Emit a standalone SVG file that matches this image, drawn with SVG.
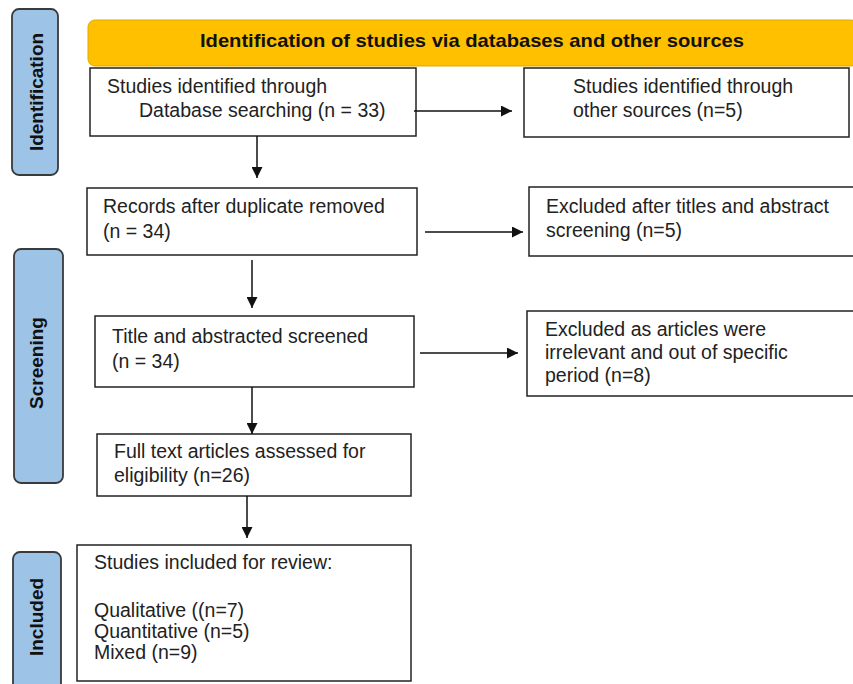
<svg xmlns="http://www.w3.org/2000/svg" width="853" height="684" viewBox="0 0 853 684">
<defs>
<style>
.box{fill:#fff;stroke:#222;stroke-width:1.5}
.side{fill:#9dc3e6;stroke:#3a3a3a;stroke-width:1.8}
.t{font-family:"Liberation Sans",Arial,sans-serif;font-size:19.5px;fill:#222}
.b{font-family:"Liberation Sans",Arial,sans-serif;font-size:19px;font-weight:bold;fill:#111}
.c{fill:none;stroke:#111;stroke-width:1.5}
</style>
<marker id="ah" markerUnits="userSpaceOnUse" markerWidth="11" markerHeight="11" refX="11" refY="5.5" orient="auto">
<path d="M0,0 L11,5.5 L0,11 z" fill="#111"/>
</marker>
</defs>
<rect width="853" height="684" fill="#fff"/>

<g id="side-identification">
<rect class="side" x="12" y="9" width="46" height="166" rx="7"/>
<text class="b" text-anchor="middle" transform="translate(43,92) rotate(-90)">Identification</text>
</g>
<g id="side-screening">
<rect class="side" x="14" y="249" width="49" height="234" rx="7"/>
<text class="b" text-anchor="middle" transform="translate(43,363) rotate(-90)">Screening</text>
</g>
<g id="side-included">
<rect class="side" x="13" y="552" width="48" height="140" rx="7"/>
<text class="b" text-anchor="middle" transform="translate(43,617) rotate(-90)">Included</text>
</g>

<g id="header">
<rect x="88" y="20" width="770" height="46" rx="7" fill="#ffc000" stroke="#e0a800" stroke-width="1"/>
<text class="b" x="472" y="47" text-anchor="middle" textLength="544" lengthAdjust="spacingAndGlyphs">Identification of studies via databases and other sources</text>
</g>

<g id="db-search">
<rect class="box" x="90" y="68" width="326" height="68"/>
<text class="t" x="107" y="93">Studies identified through</text>
<text class="t" x="139" y="117">Database searching (n = 33)</text>
</g>
<g id="other-sources">
<rect class="box" x="524" y="68" width="325" height="69"/>
<text class="t" x="573" y="93">Studies identified through</text>
<text class="t" x="573" y="117">other sources (n=5)</text>
</g>
<g id="dup-removed">
<rect class="box" x="87" y="188" width="330" height="67"/>
<text class="t" x="103" y="213">Records after duplicate removed</text>
<text class="t" x="103" y="238">(n = 34)</text>
</g>
<g id="excluded-titles">
<rect class="box" x="529" y="187" width="330" height="69"/>
<text class="t" x="546" y="213">Excluded after titles and abstract</text>
<text class="t" x="546" y="237">screening (n=5)</text>
</g>
<g id="screened">
<rect class="box" x="95" y="316" width="319" height="71"/>
<text class="t" x="112" y="343">Title and abstracted screened</text>
<text class="t" x="112" y="368">(n = 34)</text>
</g>
<g id="excluded-irrelevant">
<rect class="box" x="527" y="311" width="330" height="85"/>
<text class="t" x="545" y="336">Excluded as articles were</text>
<text class="t" x="545" y="359">irrelevant and out of specific</text>
<text class="t" x="545" y="382">period (n=8)</text>
</g>
<g id="full-text">
<rect class="box" x="97" y="434" width="314" height="62"/>
<text class="t" x="114" y="458">Full text articles assessed for</text>
<text class="t" x="114" y="482">eligibility (n=26)</text>
</g>
<g id="included">
<rect class="box" x="77" y="545" width="334" height="136"/>
<text class="t" x="94" y="569">Studies included for review:</text>
<text class="t" x="94" y="617">Qualitative ((n=7)</text>
<text class="t" x="94" y="638">Quantitative (n=5)</text>
<text class="t" x="94" y="659">Mixed (n=9)</text>
</g>

<g id="connectors">
<line class="c" x1="414" y1="111" x2="512" y2="111" marker-end="url(#ah)"/>
<line class="c" x1="257" y1="136" x2="257" y2="178" marker-end="url(#ah)"/>
<line class="c" x1="425" y1="232" x2="523" y2="232" marker-end="url(#ah)"/>
<line class="c" x1="252" y1="260" x2="252" y2="308" marker-end="url(#ah)"/>
<line class="c" x1="420" y1="353" x2="518" y2="353" marker-end="url(#ah)"/>
<line class="c" x1="252" y1="387" x2="252" y2="434" marker-end="url(#ah)"/>
<line class="c" x1="247" y1="496" x2="247" y2="538" marker-end="url(#ah)"/>
</g>
</svg>
